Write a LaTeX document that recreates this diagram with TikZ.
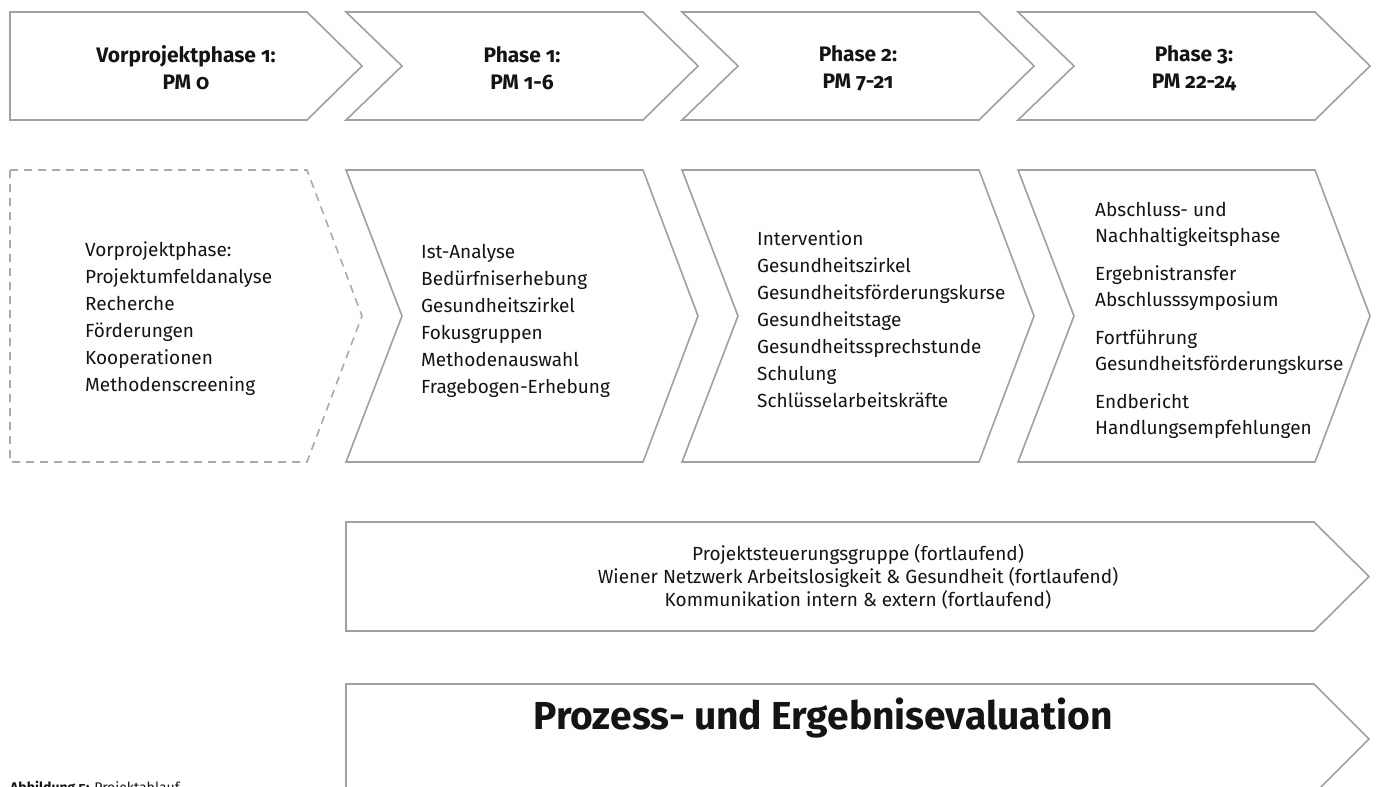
\documentclass[tikz,border=0pt]{standalone}
\usepackage{fontspec}
\setmainfont{Fira Sans}[Numbers=OldStyle]
\definecolor{linegray}{RGB}{160,160,160}
\definecolor{dashgray}{RGB}{170,170,170}
\definecolor{txt}{RGB}{20,20,20}
\begin{document}
\begin{tikzpicture}[x=1pt,y=-1pt,
  shp/.style={draw=linegray, line width=1.6pt, line join=miter},
  dsh/.style={draw=dashgray, line width=1.6pt, dash pattern=on 8pt off 6pt},
  hdr/.style={font=\fontsize{21}{27}\selectfont\bfseries, align=center, text=txt, inner sep=0pt},
  body/.style={font=\fontsize{19}{27}\selectfont, align=left, anchor=west, text=txt, inner sep=0pt},
  ftxt/.style={font=\fontsize{19}{23}\selectfont, align=center, text=txt, inner sep=0pt},
]
\useasboundingbox (0,0) rectangle (1376,787);
\clip (0,0) rectangle (1376,787);

% top row
\draw[shp] (10,12) -- (307,12) -- (362,66) -- (307,120) -- (10,120) -- cycle;
\foreach \L in {346,682,1018}
  \draw[shp] (\L,12) -- (\L+297,12) -- (\L+352,66) -- (\L+297,120) -- (\L,120) -- (\L+56,66) -- cycle;

% middle row
\draw[dsh] (10,170) -- (307,170) -- (362,316) -- (307,462) -- (10,462) -- cycle;
\foreach \L in {346,682,1018}
  \draw[shp] (\L,170) -- (\L+297,170) -- (\L+352,316) -- (\L+297,462) -- (\L,462) -- (\L+56,316) -- cycle;

% continuous arrow
\draw[shp] (346,522) -- (1314,522) -- (1369,576.5) -- (1314,631) -- (346,631) -- cycle;
% evaluation arrow
\draw[shp] (346,684) -- (1314,684) -- (1369,739) -- (1314,794) -- (346,794) -- cycle;

% headers
\node[hdr] (h0) at (186,68) {Vorprojektphase 1:\\PM 0};
\node[hdr] (h1) at (522,68) {Phase 1:\\PM 1-6};
\node[hdr] (h2) at (858,68) {Phase 2:\\PM 7-21};
\node[hdr] (h3) at (1194,68) {Phase 3:\\PM 22-24};

% bodies
\node[body] (b0) at (85,319) {Vorprojektphase:\\Projektumfeldanalyse\\Recherche\\Förderungen\\Kooperationen\\Methodenscreening};
\node[body] (b1) at (421,321) {Ist-Analyse\\Bedürfniserhebung\\Gesundheitszirkel\\Fokusgruppen\\Methodenauswahl\\Fragebogen-Erhebung};
\node[body] (b2) at (757,319) {Intervention\\Gesundheitszirkel\\Gesundheitsförderungskurse\\Gesundheitstage\\Gesundheitssprechstunde\\Schulung\\Schlüsselarbeitskräfte};
\node[body, font=\fontsize{19}{26}\selectfont] (b3) at (1095,320) {Abschluss- und\\Nachhaltigkeitsphase\\[12pt]Ergebnistransfer\\Abschlusssymposium\\[12pt]Fortführung\\Gesundheitsförderungskurse\\[12pt]Endbericht\\Handlungsempfehlungen};

% continuous text
\node[ftxt] (f) at (858,577) {Projektsteuerungsgruppe (fortlaufend)\\Wiener Netzwerk Arbeitslosigkeit \& Gesundheit (fortlaufend)\\Kommunikation intern \& extern (fortlaufend)};

% evaluation text
\node[text=txt, inner sep=0pt, font=\fontsize{39}{42}\selectfont\bfseries] (ev) at (823,718) {Prozess- und Ergebnisevaluation};

% caption (cut at bottom edge, as in the reference)
\node[anchor=base west, inner sep=0pt, text=txt, font=\fontsize{14}{16}\selectfont] (cap) at (10,792) {\textbf{Abbildung 5:} Projektablauf};
\end{tikzpicture}
\end{document}
